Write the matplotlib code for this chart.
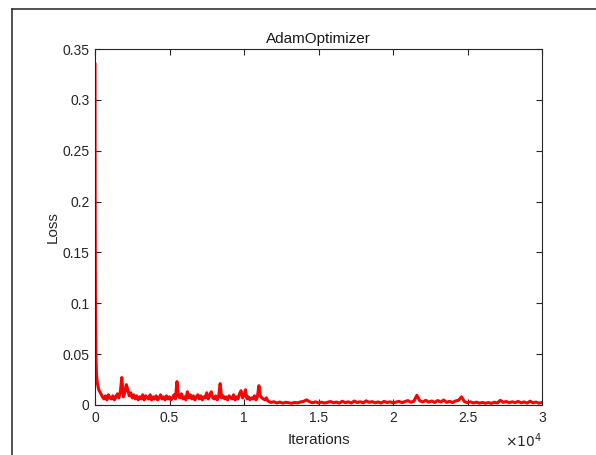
import numpy as np
import matplotlib
matplotlib.use("Agg")
import matplotlib.pyplot as plt
from matplotlib.ticker import FuncFormatter
from matplotlib.lines import Line2D

plt.rcParams['font.family'] = ['Liberation Sans', 'DejaVu Sans']

# Early rapid drop
early_iters = [0, 10, 30, 60, 100, 150, 250]
early_loss = [0.335, 0.20, 0.10, 0.05, 0.030, 0.022, 0.015]

# Noisy phase, 400..11600 step 100 (values in thousandths)
mid_start, mid_step = 400, 100
mid_loss_milli = [11, 8, 6, 9, 5, 10, 7, 6, 9, 5, 8, 11, 7, 13,
                  27, 8, 12, 20, 15, 9, 12, 7, 10, 6,
                  9, 5, 8, 6, 10, 5, 9, 7, 6, 10,
                  5, 8, 6, 9, 5, 7, 10, 6, 8, 5,
                  9, 6, 8, 5, 7, 10, 6, 23, 9, 7,
                  11, 6, 8, 5, 13, 7, 10, 6, 9, 5,
                  8, 10, 6, 9, 5, 8, 7, 12, 6, 9,
                  13, 7, 6, 9, 5, 8, 21, 7, 9, 6,
                  8, 5, 9, 7, 6, 10, 5, 8, 6, 11,
                  14, 7, 9, 15, 6, 8, 5, 7, 6, 9,
                  5, 8, 19, 9, 7, 6, 5, 7, 4]

# Late flat phase, 11800..30000 step 200 (values in thousandths)
late_start, late_step = 11800, 200
late_loss_milli = [2.5, 3.2, 2.0, 2.9, 1.8, 2.7, 2.2, 1.7, 2.6, 2.0,
                   3.0, 3.6, 5.0, 3.2, 2.2, 3.1, 2.0, 2.8, 1.9, 2.6,
                   3.4, 2.2, 2.9, 1.9, 3.7, 2.3, 3.1, 2.0, 3.9, 2.4,
                   3.2, 2.1, 4.1, 2.6, 3.3, 2.2, 3.0, 2.0, 3.5, 2.4,
                   3.1, 2.1, 2.9, 3.6, 2.3, 3.4, 4.3, 2.7, 3.7, 9.5,
                   4.1, 3.0, 4.6, 2.8, 3.9, 2.5, 4.4, 2.9, 4.9, 2.6,
                   3.6, 2.4, 4.0, 4.6, 8.0, 3.2, 2.4, 3.1, 2.0, 2.8,
                   1.8, 2.5, 1.7, 2.4, 1.6, 2.7, 2.0, 4.6, 2.6, 3.4,
                   2.3, 3.1, 2.4, 3.5, 2.2, 3.0, 1.9, 3.7, 2.1, 2.9,
                   1.8, 2.5]

x_ticks = [0, 5000, 10000, 15000, 20000, 25000, 30000]
y_ticks = [0, 0.05, 0.1, 0.15, 0.2, 0.25, 0.3, 0.35]

mid_iters = list(range(mid_start, mid_start + mid_step * len(mid_loss_milli), mid_step))
late_iters = list(range(late_start, late_start + late_step * len(late_loss_milli), late_step))
iters = early_iters + mid_iters + late_iters
loss = early_loss + [v / 1000 for v in mid_loss_milli] + [v / 1000 for v in late_loss_milli]

fig = plt.figure(figsize=(5.96, 4.55), dpi=100)
ax = fig.add_axes([95/596, 1-405/455, (542-95)/596, (405-49)/455])
ax.plot(iters, loss, color='#ff0000', lw=2.2)

ax.set_xlim(0, 30000)
ax.set_ylim(0, 0.35)
ax.set_xticks(x_ticks)
ax.set_yticks(y_ticks)
ax.xaxis.set_major_formatter(FuncFormatter(lambda v, p: f"{v/1e4:g}"))
ax.yaxis.set_major_formatter(FuncFormatter(lambda v, p: f"{v:g}"))
ax.tick_params(direction='in', top=True, right=True, length=4, width=0.8,
               labelsize=10, colors='#262626', pad=4)
for s in ax.spines.values():
    s.set_color('#262626')
    s.set_linewidth(0.8)

ax.set_title('AdamOptimizer', fontsize=11, color='#1a1a1a', pad=4)
ax.set_xlabel('Iterations', fontsize=11, color='#262626', labelpad=6)
ax.set_ylabel('Loss', fontsize=11, color='#262626', labelpad=2)
ax.text(1.0, -0.1, r'$\times10^4$', transform=ax.transAxes, ha='right', va='center',
        fontsize=10, color='#262626')

# screenshot frame lines
fig.add_artist(Line2D([12/596, 12/596], [0, 1-9/455], color='#333333', lw=1.2))
fig.add_artist(Line2D([12/596, 1], [1-9/455, 1-9/455], color='#333333', lw=1.2))

fig.savefig('out.png', dpi=100)
